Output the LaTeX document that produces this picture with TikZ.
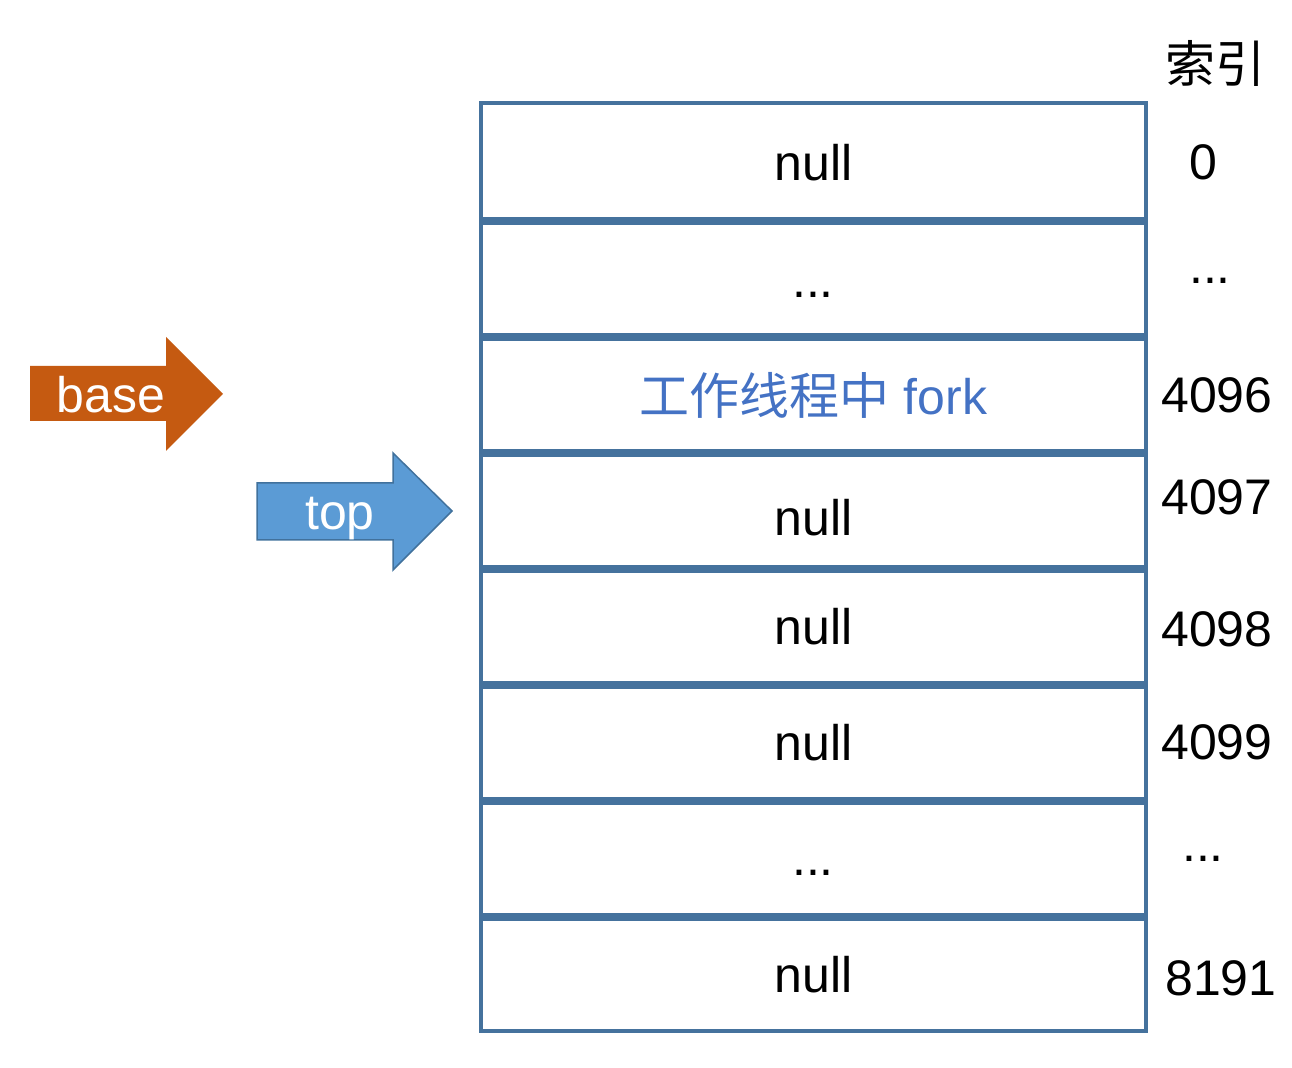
\documentclass[tikz,border=0pt]{standalone}
\usepackage{fontspec}
\setmainfont{Liberation Sans}
\newfontfamily\cjk{Noto Sans CJK SC}
\usetikzlibrary{positioning}

\definecolor{boxblue}{RGB}{69,114,157}
\definecolor{forkblue}{RGB}{68,114,196}
\definecolor{baseorange}{RGB}{197,90,17}
\definecolor{topblue}{RGB}{91,155,213}
\definecolor{topedge}{RGB}{65,113,156}

\begin{document}
\begin{tikzpicture}[x=0.5pt,y=-0.5pt,
	cell/.style={draw=boxblue, line width=2pt, minimum width=332.5pt, minimum height=56pt, inner sep=0pt, font=\fontsize{25}{30}\selectfont},
	idx/.style={inner sep=0pt, font=\fontsize{25}{30}\selectfont},
	arrowtxt/.style={inner sep=0pt, text=white, font=\fontsize{25}{30}\selectfont}]
	\useasboundingbox (0,0) rectangle (1292,1068);
	
	%cells
	\node[cell, minimum height=58pt] (cell1) at (813.5,161) {};
	\node[cell, below=0pt of cell1] (cell2) {};
	\node[cell, below=0pt of cell2, text=forkblue] (cell3) {{\cjk 工作线程中} fork};
	\node[cell, below=0pt of cell3] (cell4) {};
	\node[cell, below=0pt of cell4] (cell5) {null};
	\node[cell, below=0pt of cell5] (cell6) {null};
	\node[cell, below=0pt of cell6] (cell7) {};
	\node[cell, below=0pt of cell7] (cell8) {null};
	\node[idx] (null1) at ([yshift=-1pt]cell1.center) {null};
	\node[idx, anchor=base] (dots2) at (813,298) {...};
	\node[idx] (null4) at ([yshift=-3.5pt]cell4.center) {null};
	\node[idx, anchor=base] (dots7) at (813,876) {...};
	
	%index labels
	\node[idx] (idxhead) at (1215,63) {\cjk 索引};
	\node[idx] (idx0) at (1203,162) {0};
	\node[idx, anchor=base] (idxdots1) at (1210,284) {...};
	\node[idx] (idx4096) at (1217,395) {4096};
	\node[idx] (idx4097) at (1217,497) {4097};
	\node[idx] (idx4098) at (1217,629) {4098};
	\node[idx] (idx4099) at (1217,742) {4099};
	\node[idx, anchor=base] (idxdots2) at (1203,862) {...};
	\node[idx] (idx8191) at (1221,978) {8191};
	
	%base arrow
	\fill[baseorange] (30,366) -- (166,366) -- (166,337) -- (223,394) -- (166,451) -- (166,421) -- (30,421) -- cycle;
	\node[arrowtxt, anchor=base] (base) at (111,413) {base};
	
	%top arrow
	\filldraw[fill=topblue, draw=topedge, line width=0.75pt] (257,483) -- (393,483) -- (393,453) -- (452,511) -- (393,570) -- (393,540) -- (257,540) -- cycle;
	\node[arrowtxt, anchor=base] (top) at (340,530) {top};
\end{tikzpicture}
\end{document}
